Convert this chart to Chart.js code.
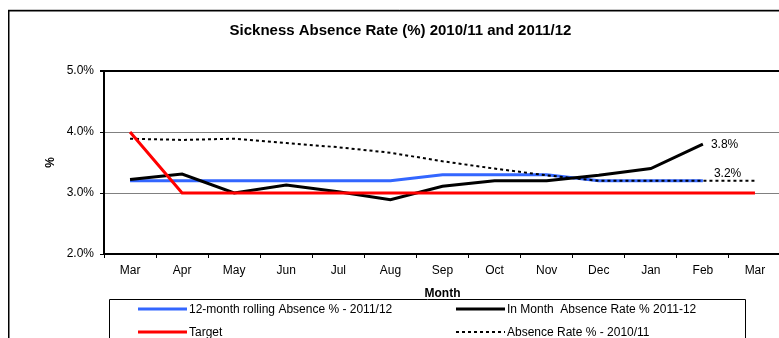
<!DOCTYPE html>
<html><head><meta charset="utf-8">
<style>
html,body{margin:0;padding:0;overflow:hidden;background:#fff;width:779px;height:338px}
#wrap{position:absolute;left:0;top:0;width:790px;height:338px}
</style>
<script src="https://cdn.jsdelivr.net/npm/chart.js@4/dist/chart.umd.min.js"></script>
</head><body><div id="wrap"><canvas id="c" width="790" height="338"></canvas></div>
<script>
const chartTitle = 'Sickness Absence Rate (%) 2010/11 and 2011/12';
const xTitle = 'Month';
const yTitle = '%';
const months = ['Mar','Apr','May','Jun','Jul','Aug','Sep','Oct','Nov','Dec','Jan','Feb','Mar'];
const rolling1112 = [3.2,3.2,3.2,3.2,3.2,3.2,3.3,3.3,3.3,3.2,3.2,3.2,null];
const inMonth1112 = [3.22,3.31,3.0,3.13,3.02,2.89,3.11,3.2,3.2,3.29,3.4,3.8,null];
const target = [4.0,3.0,3.0,3.0,3.0,3.0,3.0,3.0,3.0,3.0,3.0,3.0,3.0];
const rate1011 = [3.89,3.87,3.89,3.82,3.75,3.66,3.52,3.4,3.29,3.2,3.2,3.2,3.2];
const seriesNames = ['12-month rolling Absence % - 2011/12','In Month  Absence Rate % 2011-12','Target','Absence Rate % - 2010/11'];
const yMin = 2, yMax = 5, yStep = 1;
// labels: [datasetIndex, pointIndex]
const pointLabels = [[1,11],[0,11]];

const FONT = '"Liberation Sans", Arial, sans-serif';

const decor = {
  id:'decor',
  beforeDraw(chart){
    const c = chart.ctx;
    c.save();
    c.strokeStyle = '#c8c8c8'; c.lineWidth = 1;
    c.beginPath(); c.moveTo(8, 9.5); c.lineTo(800, 9.5); c.stroke();
    c.strokeStyle = '#000'; c.lineWidth = 1.5;
    c.beginPath(); c.moveTo(8.75, 400); c.lineTo(8.75, 10.75); c.lineTo(800, 10.75); c.stroke();
    c.fillStyle = '#000';
    c.font = 'bold 15px ' + FONT;
    c.textAlign = 'center'; c.textBaseline = 'middle';
    c.fillText(chartTitle, 400.5, 31);
    c.restore();
  },
  afterDraw(chart){
    const c = chart.ctx;
    c.save();
    // point labels
    c.font = '12px ' + FONT; c.fillStyle = '#000';
    c.textAlign = 'left'; c.textBaseline = 'middle';
    pointLabels.forEach(([di,pi],k)=>{
      const pt = chart.getDatasetMeta(di).data[pi];
      const v = chart.data.datasets[di].data[pi];
      const dx = k===0 ? 8 : 11, dy = k===0 ? 0 : -7;
      c.fillText(v.toFixed(1)+'%', pt.x+dx, pt.y+dy);
    });
    // legend box
    c.strokeStyle = '#000'; c.lineWidth = 1;
    c.beginPath(); c.moveTo(109.5, 400); c.lineTo(109.5, 299.5); c.lineTo(745.5, 299.5); c.lineTo(745.5, 400); c.stroke();
    const cols = [138, 456], rows = [309, 332];
    chart.data.datasets.forEach((ds,i)=>{
      const x = cols[i%2], y = rows[Math.floor(i/2)];
      c.save();
      c.strokeStyle = ds.borderColor;
      c.lineWidth = ds.borderWidth;
      c.setLineDash(ds.borderDash || []);
      c.beginPath(); c.moveTo(x, y); c.lineTo(x+49, y); c.stroke();
      c.restore();
      c.fillStyle = '#000'; c.font = '12px ' + FONT;
      c.textAlign = 'left'; c.textBaseline = 'middle';
      c.fillText(ds.label, x+51, y+0.5);
    });
    c.restore();
  }
};

new Chart(document.getElementById('c'), {
  type:'line',
  data:{
    labels: months,
    datasets:[
      {label:seriesNames[0], data:rolling1112, borderColor:'#3366ff', borderWidth:3, order:3},
      {label:seriesNames[1], data:inMonth1112, borderColor:'#000000', borderWidth:3, order:2},
      {label:seriesNames[2], data:target, borderColor:'#ff0000', borderWidth:3, order:0},
      {label:seriesNames[3], data:rate1011, borderColor:'#000000', borderWidth:2, borderDash:[3,3], order:1}
    ]
  },
  options:{
    responsive:false, animation:false, devicePixelRatio:1,
    layout:{padding:{top:71, right:9, left:0, bottom:0}},
    elements:{point:{radius:0}, line:{tension:0, borderCapStyle:'butt'}},
    plugins:{legend:{display:false}, title:{display:false}, tooltip:{enabled:false}},
    scales:{
      x:{
        offset:true,
        afterFit(s){ s.height = 84; },
        grid:{drawOnChartArea:false, drawTicks:true, tickLength:4, color:'#000', offset:true},
        border:{display:true, color:'#000', width:2},
        ticks:{color:'#000', font:{family:FONT, size:12}, padding:5, maxRotation:0, autoSkip:false},
        title:{display:true, text:xTitle, color:'#000', font:{family:FONT, size:12, weight:'bold'}, padding:{top:0,bottom:37}}
      },
      y:{
        min:yMin, max:yMax,
        afterFit(s){ s.width = 104; },
        grid:{
          color:(ctx)=> (ctx.tick && (ctx.tick.value===yMax || ctx.tick.value===yMin)) ? '#000' : '#808080',
          lineWidth:(ctx)=> (ctx.tick && ctx.tick.value===yMax) ? 2 : 1,
          tickColor:'#000', tickLength:4
        },
        border:{display:true, color:'#000', width:2},
        ticks:{stepSize:yStep, color:'#000', font:{family:FONT, size:12}, padding:6,
          callback:(v)=> Number(v).toFixed(1)+'%'},
        title:{display:true, text:yTitle, color:'#000', font:{family:FONT, size:12, weight:'bold'}, padding:{top:43,bottom:0}}
      }
    }
  },
  plugins:[decor]
});
</script></body></html>
